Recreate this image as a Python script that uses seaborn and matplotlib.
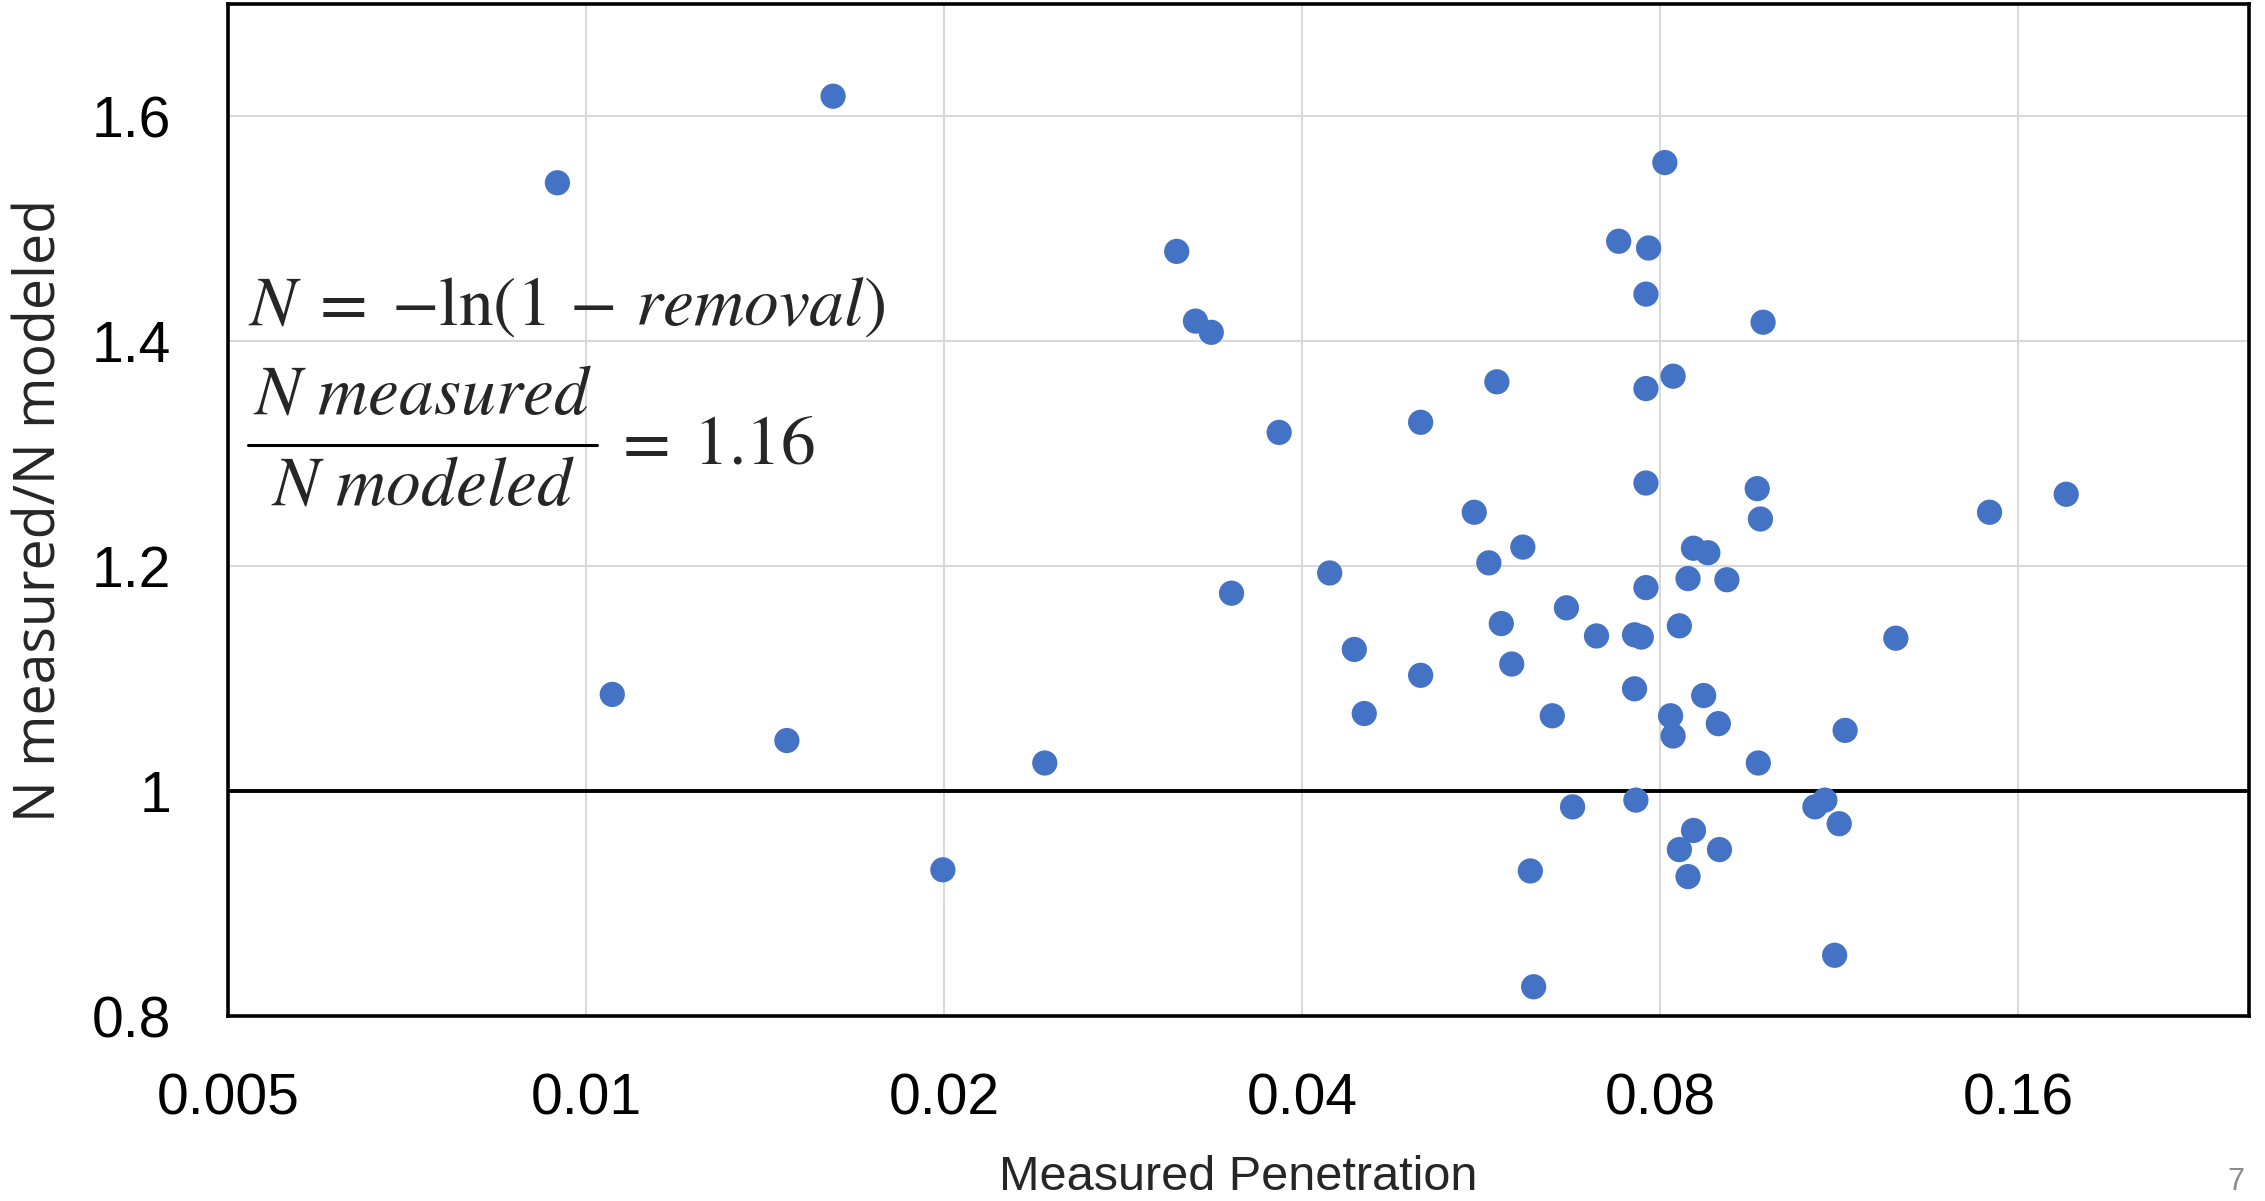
import matplotlib
matplotlib.use("Agg")
import matplotlib.pyplot as plt
import seaborn as sns
import pandas as pd
from matplotlib.lines import Line2D

# Measured penetration and the ratio of measured to modeled N for each test
penetration = [
    0.00946, 0.01052, 0.01475, 0.01613, 0.01995, 0.0243, 0.03137, 0.03253,
    0.03354, 0.03488, 0.03825, 0.04218, 0.04424, 0.0451, 0.0503, 0.0503,
    0.0558, 0.0574, 0.0583, 0.0588, 0.0600, 0.0613, 0.0622, 0.0626,
    0.0649, 0.0667, 0.0675, 0.0707, 0.0738, 0.0761, 0.0761, 0.0763,
    0.0771, 0.0778, 0.0778, 0.0778, 0.0778, 0.0782, 0.0807, 0.0816,
    0.0820, 0.0820, 0.0830, 0.0830, 0.0844, 0.0844, 0.0853, 0.0853,
    0.0870, 0.0877, 0.0895, 0.0897, 0.0910, 0.0965, 0.0967, 0.0971,
    0.0976, 0.1079, 0.1100, 0.1121, 0.1131, 0.1144, 0.1262, 0.1513, 0.1755,
]
n_ratio = [
    1.541, 1.086, 1.045, 1.618, 0.930, 1.025, 1.480, 1.418,
    1.408, 1.176, 1.319, 1.194, 1.126, 1.069, 1.328, 1.103,
    1.248, 1.203, 1.364, 1.149, 1.113, 1.217, 0.929, 0.826,
    1.067, 1.163, 0.986, 1.138, 1.489, 1.091, 1.139, 0.992,
    1.137, 1.181, 1.274, 1.358, 1.442, 1.483, 1.559, 1.067,
    1.049, 1.369, 1.147, 0.948, 0.924, 1.189, 1.216, 0.965,
    1.085, 1.212, 1.060, 0.948, 1.188, 1.269, 1.025, 1.242,
    1.417, 0.986, 0.992, 0.854, 0.971, 1.054, 1.136, 1.248, 1.264,
]

x_ticks = [0.005, 0.01, 0.02, 0.04, 0.08, 0.16]
x_tick_labels = ["0.005", "0.01", "0.02", "0.04", "0.08", "0.16"]
y_ticks = [0.8, 1.0, 1.2, 1.4, 1.6]
y_tick_labels = ["0.8", "1", "1.2", "1.4", "1.6"]
mean_ratio = 1.16

sns.set_theme(style="white")
plt.rcParams["font.family"] = ["Liberation Sans", "DejaVu Sans"]
plt.rcParams["mathtext.fontset"] = "stix"

W, H = 2265, 1201
fig = plt.figure(figsize=(W / 100, H / 100), dpi=100)
ax = fig.add_axes([228 / W, 1 - 1016 / H, (2249 - 228) / W, (1016 - 4) / H])

df = pd.DataFrame({"Measured Penetration": penetration, "ratio": n_ratio})
sns.scatterplot(data=df, x="Measured Penetration", y="ratio", ax=ax,
                s=330, color="#4472C4", edgecolor="none", linewidth=0, zorder=4)

ax.set_xscale("log", base=2)
ax.set_xlim(0.005, 0.25)
ax.set_ylim(0.8, 1.7)
ax.set_xticks(x_ticks)
ax.set_xticklabels(x_tick_labels)
ax.set_yticks(y_ticks)
ax.set_yticklabels(y_tick_labels)
ax.minorticks_off()
ax.tick_params(axis="both", length=0, labelsize=41, colors="black")
ax.tick_params(axis="x", pad=41)
ax.tick_params(axis="y", pad=41)

# light grid, with a heavy reference line at ratio = 1
for xv in x_ticks[1:]:
    ax.axvline(xv, color="#D9D9D9", lw=1.5, zorder=1)
for yv in y_ticks[2:]:
    ax.axhline(yv, color="#D9D9D9", lw=1.5, zorder=1)
ax.axhline(1.0, color="black", lw=2.8, zorder=3)

for sp in ax.spines.values():
    sp.set_color("black")
    sp.set_linewidth(2.6)

ax.set_xlabel("Measured Penetration", fontsize=35, labelpad=20)
ax.set_ylabel("N measured/N modeled", fontsize=40, labelpad=16,
              family=["Open Sans", "DejaVu Sans"])

# equation annotations
def ax_xy(px, py):
    return (px - 228) / 2021, (1016 - py) / 1012

tx, ty = ax_xy(248, 307)
ax.text(tx, ty, r"$N\;=\;{-}\ln(1\,-\,removal)$", transform=ax.transAxes,
        fontsize=50, ha="left", va="center", zorder=5)

cx = (248 + 597) / 2
nx, ny = ax_xy(cx, 396)
ax.text(nx, ny, r"$N\ measured$", transform=ax.transAxes,
        fontsize=50, ha="center", va="center", zorder=5)
dx, dy = ax_xy(cx, 487)
ax.text(dx, dy, r"$N\ modeled$", transform=ax.transAxes,
        fontsize=50, ha="center", va="center", zorder=5)
bx0, by = ax_xy(248, 445)
bx1, _ = ax_xy(597, 445)
ax.add_line(Line2D([bx0, bx1], [by, by], transform=ax.transAxes,
                   color="black", lw=2.2, zorder=5))
ex, ey = ax_xy(612, 445)
ax.text(ex, ey, r"$=\;%.2f$" % mean_ratio, transform=ax.transAxes,
        fontsize=50, ha="left", va="center", zorder=5)

fig.text(2227 / W, 1 - 1197 / H, "7", fontsize=22, color="#8C8C8C",
         ha="left", va="bottom")

fig.savefig("out.png", dpi=100)
